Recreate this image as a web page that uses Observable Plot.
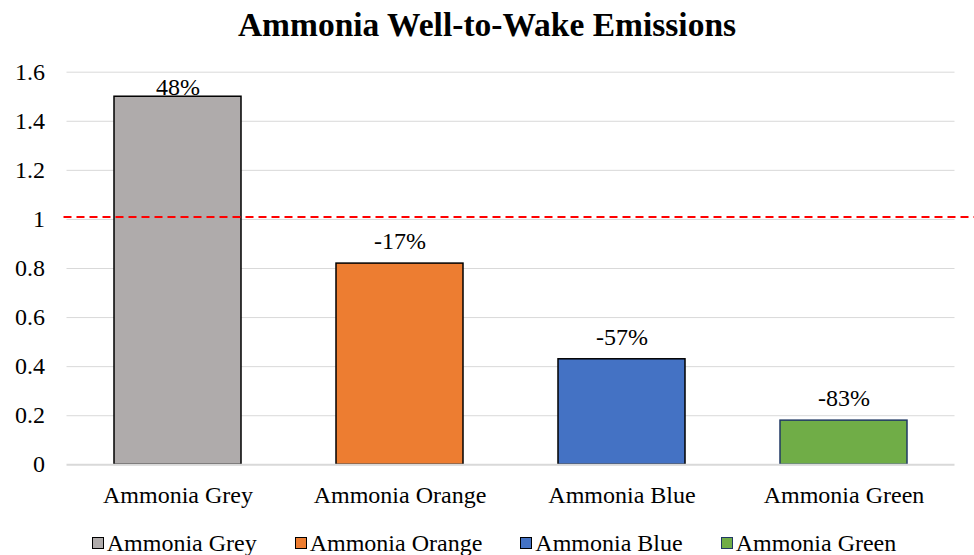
<!DOCTYPE html>
<html>
<head>
<meta charset="utf-8">
<script src="https://cdn.jsdelivr.net/npm/d3@7"></script>
<script src="https://cdn.jsdelivr.net/npm/@observablehq/plot@0.6"></script>
<style>
  body { margin: 0; background: #fff; font-family: "Liberation Serif", serif; }
  #title { height: 50px; line-height: 50px; text-align: center; font-size: 33.5px; font-weight: bold; color: #000; font-family: "Liberation Serif", serif; }
  #legend { display: flex; justify-content: center; gap: 38px; font-size: 24px; margin-top: 11px; padding-left: 14px; font-family: "Liberation Serif", serif; line-height: 24px; }
  .item { display: flex; align-items: center; gap: 3px; }
  .sw { width: 10px; height: 10px; border: 1px solid #000; }
  svg text, svg g { font-family: "Liberation Serif", serif !important; }
</style>
</head>
<body>
<div id="title">Ammonia Well-to-Wake Emissions</div>
<div id="chart"></div>
<div id="legend"></div>
<script>
const categories = ["Ammonia Grey", "Ammonia Orange", "Ammonia Blue", "Ammonia Green"];
const values = [1.5, 0.82, 0.43, 0.18];
const labels = ["48%", "-17%", "-57%", "-83%"];
const fills = ["#AFABAB", "#ED7D31", "#4472C4", "#70AD47"];
const strokes = ["#000000", "#000000", "#000000", "#203864"];
const yTicks = [0, 0.2, 0.4, 0.6, 0.8, 1, 1.2, 1.4, 1.6];
const referenceLine = 1.01;

const data = categories.map((c, i) => ({cat: c, value: values[i], label: labels[i], fill: fills[i], stroke: strokes[i]}));

const chart = Plot.plot({
  width: 974,
  height: 470,
  marginTop: 21.7,
  marginBottom: 55.7,
  marginLeft: 66.5,
  marginRight: 19.5,
  style: { fontFamily: "'Liberation Serif', serif", fontSize: "24px", color: "#000", background: "#fff" },
  x: { domain: categories, paddingInner: 0.43, paddingOuter: 0.215, label: null },
  y: { domain: [0, 1.6], label: null },
  marks: [
    Plot.ruleY(yTicks.filter(d => d > 0), { stroke: "#d9d9d9", strokeWidth: 1 }),
    Plot.barY(data, { x: "cat", y: "value", fill: d => d.fill, stroke: d => d.stroke, strokeWidth: 1.5 }),
    Plot.ruleY([0], { stroke: "#d9d9d9", strokeWidth: 2 }),
    Plot.ruleY([referenceLine], { stroke: "#ff0000", strokeWidth: 2, strokeDasharray: "8,5", insetLeft: -3, insetRight: -19.5 }),
    Plot.text(data.filter((d, i) => i === 0), { x: "cat", y: "value", text: "label", dy: -9, fontSize: 24, fill: "#000", fontFamily: "Liberation Serif" }),
    Plot.text(data.filter((d, i) => i > 0), { x: "cat", y: "value", text: "label", dy: -22, fontSize: 24, fill: "#000", fontFamily: "Liberation Serif" }),
    Plot.axisX({ tickSize: 0, tickPadding: 21, fontSize: 24, label: null, fontFamily: "Liberation Serif" }),
    Plot.axisY({ ticks: yTicks, tickSize: 0, tickPadding: 22, fontSize: 24, tickFormat: d3.format("~g"), label: null, fontFamily: "Liberation Serif" })
  ]
});
chart.style.overflow = "visible";
document.getElementById("chart").appendChild(chart);

const legend = document.getElementById("legend");
data.forEach(d => {
  const it = document.createElement("div");
  it.className = "item";
  const sw = document.createElement("div");
  sw.className = "sw";
  sw.style.background = d.fill;
  sw.style.borderColor = d.stroke;
  const tx = document.createElement("span");
  tx.textContent = d.cat;
  it.appendChild(sw);
  it.appendChild(tx);
  legend.appendChild(it);
});
</script>
</body>
</html>
